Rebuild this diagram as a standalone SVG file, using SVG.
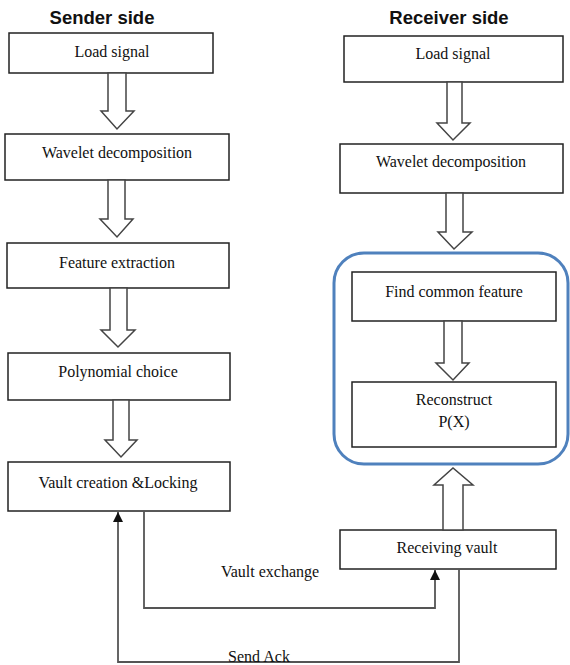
<svg xmlns="http://www.w3.org/2000/svg" width="570" height="665" viewBox="0 0 570 665">
<style>
.box{fill:#fff;stroke:#222;stroke-width:1.5}
.t{font-family:"Liberation Serif","Times New Roman",serif;font-size:16px;fill:#111;text-anchor:middle}
.h{font-family:"Liberation Sans",Arial,sans-serif;font-size:18.5px;font-weight:bold;fill:#111;text-anchor:middle}
.ha{fill:#fff;stroke:#444;stroke-width:1.5;stroke-linejoin:miter}
.ln{fill:none;stroke:#555;stroke-width:1.8}
.grp{fill:none;stroke:#4f81bd;stroke-width:3}
</style>
<defs>
<marker id="ah" viewBox="0 0 10 10" refX="10" refY="5" markerWidth="11" markerHeight="10" markerUnits="userSpaceOnUse" orient="auto">
<path d="M0,0 L10,5 L0,10 Z" fill="#111"/>
</marker>
</defs>
<rect width="570" height="665" fill="#fff"/>
<text class="h" x="102" y="24">Sender side</text>
<text class="h" x="449" y="24">Receiver side</text>

<g id="group-receiver"><rect class="grp" x="334" y="253" width="234" height="211" rx="30" ry="30"/></g>

<g id="s-load"><rect class="box" x="9" y="33" width="204" height="40"/><text class="t" x="112" y="57">Load signal</text></g>
<g id="s-wavelet"><rect class="box" x="5" y="134" width="224" height="46"/><text class="t" x="117" y="158">Wavelet decomposition</text></g>
<g id="s-feature"><rect class="box" x="7" y="243" width="222" height="45"/><text class="t" x="117" y="268">Feature extraction</text></g>
<g id="s-poly"><rect class="box" x="8" y="353" width="222" height="47"/><text class="t" x="118" y="377">Polynomial choice</text></g>
<g id="s-vault"><rect class="box" x="8" y="462" width="222" height="49"/><text class="t" x="118" y="488">Vault creation &amp;Locking</text></g>

<g id="r-load"><rect class="box" x="344" y="36" width="219" height="46"/><text class="t" x="453" y="59">Load signal</text></g>
<g id="r-wavelet"><rect class="box" x="340" y="144" width="223" height="49"/><text class="t" x="451" y="167">Wavelet decomposition</text></g>
<g id="r-common"><rect class="box" x="352" y="272" width="204" height="49"/><text class="t" x="454" y="297">Find common feature</text></g>
<g id="r-reconstruct"><rect class="box" x="352" y="382" width="204" height="65"/><text class="t" x="454" y="405">Reconstruct</text><text class="t" x="454" y="427">P(X)</text></g>
<g id="r-receiving"><rect class="box" x="340" y="530" width="216" height="39"/><text class="t" x="447" y="553">Receiving  vault</text></g>

<g id="connectors">
<path class="ha" d="M108,73 L126,73 L126,111 L134,111 L117,129 L101,111 L108,111 Z"/>
<path class="ha" d="M108,180 L125,180 L125,219 L133,219 L117,237 L100,219 L108,219 Z"/>
<path class="ha" d="M110,288 L127,288 L127,330 L135,330 L118,347 L101,330 L110,330 Z"/>
<path class="ha" d="M113,400 L129,400 L129,440 L137,440 L121,457 L105,440 L113,440 Z"/>
<path class="ha" d="M447,82 L462,82 L462,123 L470,123 L453,140 L437,123 L447,123 Z"/>
<path class="ha" d="M446,193 L463,193 L463,232 L472,232 L454,249 L438,232 L446,232 Z"/>
<path class="ha" d="M444,321 L462,321 L462,363 L469,363 L453,380 L436,363 L444,363 Z"/>
<path class="ha" d="M443,530 L463,530 L463,485 L473,485 L453,468 L434,485 L443,485 Z"/>
<polyline class="ln" points="144,511 144,608 435,608 435,570" marker-end="url(#ah)"/>
<polyline class="ln" points="459,569 459,662 118,662 118,512" marker-end="url(#ah)"/>
<text class="t" x="270" y="577">Vault exchange</text>
<text class="t" x="259" y="662">Send Ack</text>
</g>
</svg>
